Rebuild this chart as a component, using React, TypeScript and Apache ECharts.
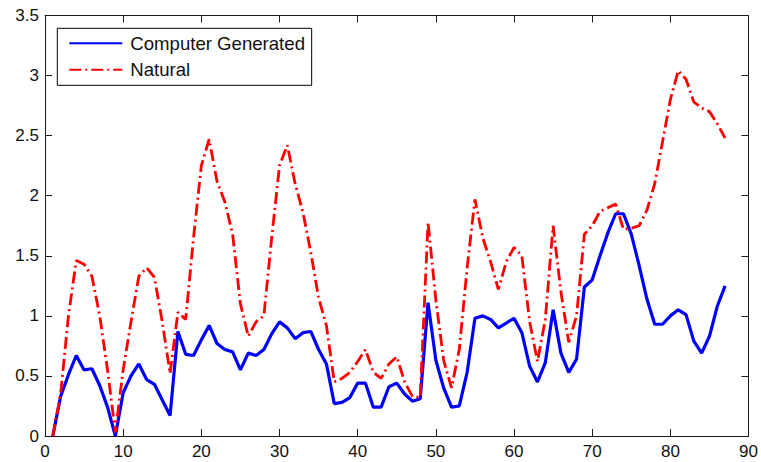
import React, { useEffect, useRef } from "react";
import * as echarts from "echarts";

const seriesNames = ["Computer Generated", "Natural"];

const computerGenerated = [
  0, 0.33, 0.51, 0.67, 0.55, 0.56, 0.42, 0.24, 0.0, 0.36,
  0.5, 0.6, 0.47, 0.43, 0.3, 0.17, 0.87, 0.68, 0.67, 0.8,
  0.92, 0.77, 0.72, 0.7, 0.55, 0.69, 0.67, 0.72, 0.85, 0.95,
  0.9, 0.81, 0.86, 0.87, 0.72, 0.6, 0.27, 0.28, 0.32, 0.44,
  0.44, 0.24, 0.24, 0.41, 0.44, 0.35, 0.29, 0.31, 1.11, 0.63,
  0.4, 0.24, 0.25, 0.53, 0.98, 1.0, 0.97, 0.9, 0.94, 0.98,
  0.86, 0.58, 0.45, 0.61, 1.05, 0.69, 0.53, 0.64, 1.24, 1.3,
  1.5, 1.69, 1.85, 1.85, 1.68, 1.42, 1.14, 0.93, 0.93, 1.0,
  1.05, 1.01, 0.79, 0.69, 0.83, 1.08, 1.25,
];

const natural = [
  0, 0.35, 1.0, 1.46, 1.43, 1.33, 1.0, 0.55, 0.03, 0.55,
  0.95, 1.33, 1.4, 1.32, 0.95, 0.52, 1.03, 0.97, 1.65, 2.25,
  2.47, 2.12, 1.95, 1.68, 1.1, 0.83, 0.95, 1.0, 1.65, 2.25,
  2.42, 2.1, 1.86, 1.53, 1.15, 0.92, 0.45, 0.48, 0.53, 0.62,
  0.72, 0.53, 0.48, 0.6, 0.66, 0.45, 0.33, 0.32, 1.78, 1.13,
  0.63, 0.4, 0.72, 1.4, 1.97, 1.65, 1.45, 1.22, 1.45, 1.57,
  1.5, 0.95, 0.62, 0.97, 1.75, 1.2, 0.78, 1.0, 1.68, 1.75,
  1.87, 1.9, 1.93, 1.72, 1.73, 1.75, 1.88, 2.1, 2.45, 2.8,
  3.04, 2.97, 2.78, 2.73, 2.7, 2.6, 2.48,
];

const xTicks = { min: 0, max: 90, interval: 10 };
const yTicks = { min: 0, max: 3.5, interval: 0.5 };

const FONT = "'Liberation Sans', Arial, Helvetica, sans-serif";

export default function App() {
  const ref = useRef<HTMLDivElement>(null);

  useEffect(() => {
    if (!ref.current) return;
    const chart = echarts.init(ref.current, undefined, { renderer: "svg" });
    const axisLine = { show: true, onZero: false, lineStyle: { color: "#1a1a1a", width: 1 } };
    const axisTick = { show: true, inside: true, length: 7, lineStyle: { color: "#1a1a1a", width: 1 } };
    const label = { color: "#111", fontSize: 17, fontFamily: FONT };
    chart.setOption({
      animation: false,
      backgroundColor: "#fff",
      grid: { left: 45, top: 15.5, right: 11.5, bottom: 26 },
      legend: {
        left: 57.3,
        top: 28.3,
        orient: "vertical",
        padding: [5.4, 6.7, 6, 11],
        itemWidth: 53,
        itemHeight: 18,
        itemGap: 7.6,
        borderColor: "#000",
        borderWidth: 1,
        backgroundColor: "#fff",
        itemStyle: { opacity: 0, borderWidth: 0 },
        textStyle: { color: "#111", fontSize: 18.6, fontFamily: FONT, padding: [0, 0, 0, 3] },
        data: seriesNames,
      },
      xAxis: [
        {
          type: "value",
          position: "bottom",
          ...xTicks,
          axisLine,
          axisTick,
          splitLine: { show: false },
          axisLabel: { ...label, margin: 7 },
        },
        {
          type: "value",
          position: "top",
          ...xTicks,
          axisLine,
          axisTick,
          splitLine: { show: false },
          axisLabel: { show: false },
        },
      ],
      yAxis: [
        {
          type: "value",
          position: "left",
          ...yTicks,
          axisLine,
          axisTick,
          splitLine: { show: false },
          axisLabel: { ...label, margin: 6 },
        },
        {
          type: "value",
          position: "right",
          ...yTicks,
          axisLine,
          axisTick,
          splitLine: { show: false },
          axisLabel: { show: false },
        },
      ],
      series: [
        {
          name: seriesNames[0],
          type: "line",
          xAxisIndex: 0,
          yAxisIndex: 0,
          symbol: "none",
          data: computerGenerated.map((v, i) => [i + 1, v]),
          lineStyle: { color: "#0000ff", width: 3.2 },
          itemStyle: { color: "#0000ff" },
        },
        {
          name: seriesNames[1],
          type: "line",
          xAxisIndex: 0,
          yAxisIndex: 0,
          symbol: "none",
          data: natural.map((v, i) => [i + 1, v]),
          lineStyle: { color: "#ff0000", width: 2.8, type: [12, 4, 2, 4] },
          itemStyle: { color: "#ff0000" },
        },
      ],
    });
    return () => chart.dispose();
  }, []);

  return (
    <div
      ref={ref}
      style={{ position: "fixed", left: 0, top: 0, width: 761, height: 462, background: "#fff" }}
    />
  );
}
